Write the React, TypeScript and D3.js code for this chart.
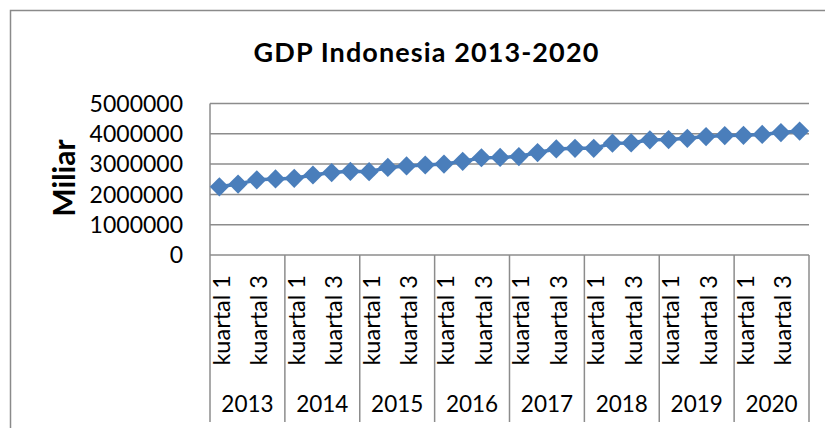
import React from "react";
import * as d3 from "d3";

const title = "GDP Indonesia 2013-2020";
const yAxisTitle = "Miliar";
const years = ["2013", "2014", "2015", "2016", "2017", "2018", "2019", "2020"];
const quarters = ["kuartal 1", "kuartal 2", "kuartal 3", "kuartal 4"];
const gdp = [
  2250000, 2340000, 2480000, 2510000,
  2530000, 2640000, 2720000, 2760000,
  2750000, 2890000, 2940000, 2970000,
  3000000, 3090000, 3210000, 3220000,
  3250000, 3380000, 3500000, 3520000,
  3520000, 3690000, 3700000, 3800000,
  3810000, 3850000, 3910000, 3940000,
  3950000, 3980000, 4040000, 4090000,
];
const yTicks = [0, 1000000, 2000000, 3000000, 4000000, 5000000];

const W = 825;
const H = 428;
const FONT = "Lato, 'Open Sans', sans-serif";
const BLUE = "#4A7EBB";
const GRID = "#8c8c8c";

export default function App() {
  const left = 210;
  const right = 809;
  const top = 103.5;
  const bottom = 255;

  const rows = years.flatMap((yr, yi) =>
    quarters.map((q, qi) => ({ year: yr, q, qi, value: gdp[yi * quarters.length + qi], idx: yi * quarters.length + qi }))
  );

  const x = d3
    .scaleBand<number>()
    .domain(rows.map((r) => r.idx))
    .range([left, right])
    .paddingInner(0)
    .paddingOuter(0);
  const xYear = d3.scaleBand<string>().domain(years).range([left, right]);
  const y = d3.scaleLinear().domain([0, 5000000]).range([bottom, top]);

  const cx = (i: number) => (x(i) as number) + x.bandwidth() / 2;
  const line = d3
    .line<typeof rows[number]>()
    .x((d) => cx(d.idx))
    .y((d) => y(d.value));
  const diamond = d3.symbol().type(d3.symbolDiamond2).size(235)();

  return (
    <svg
      width={W}
      height={H}
      style={{ position: "absolute", left: 0, top: 0, background: "#fff" }}
      fontFamily={FONT}
    >
      <rect x={10.5} y={10.5} width={840} height={440} fill="#fff" stroke="#8a8a8a" strokeWidth={1.5} />
      <text
        x={426.5}
        y={61.5}
        textAnchor="middle"
        fontSize={27}
        fontWeight="bold"
        letterSpacing={1.1}
        fill="#000"
      >
        {title}
      </text>
      <text
        transform={`translate(75,178) rotate(-90)`}
        textAnchor="middle"
        fontSize={30}
        fontWeight="bold"
        fill="#000"
      >
        {yAxisTitle}
      </text>
      {yTicks.map((t) => (
        <g key={t}>
          <line x1={left} x2={right} y1={y(t)} y2={y(t)} stroke={GRID} strokeWidth={1.5} />
          <text x={183} y={y(t)} dy="0.36em" textAnchor="end" fontSize={23} fill="#000">
            {t}
          </text>
        </g>
      ))}
      <line x1={left} x2={left} y1={top} y2={bottom} stroke={GRID} strokeWidth={1.5} />
      {years.map((yr) => (
        <line
          key={"d" + yr}
          x1={xYear(yr) as number}
          x2={xYear(yr) as number}
          y1={bottom}
          y2={422}
          stroke={GRID}
          strokeWidth={1.5}
        />
      ))}
      <line x1={right} x2={right} y1={bottom} y2={422} stroke={GRID} strokeWidth={1.5} />
      {rows
        .filter((r) => r.qi % 2 === 0)
        .map((r) => (
          <text
            key={"q" + r.idx}
            transform={`translate(${cx(r.idx) + 10.5},275) rotate(-90)`}
            textAnchor="end"
            fontSize={23.5}
            fill="#000"
          >
            {r.q}
          </text>
        ))}
      {years.map((yr) => (
        <text
          key={"y" + yr}
          x={(xYear(yr) as number) + xYear.bandwidth() / 2}
          y={412}
          textAnchor="middle"
          fontSize={22.5}
          fill="#000"
        >
          {yr}
        </text>
      ))}
      <path d={line(rows) || ""} fill="none" stroke={BLUE} strokeWidth={3.5} />
      {rows.map((r) => (
        <path key={"m" + r.idx} d={diamond || ""} transform={`translate(${cx(r.idx)},${y(r.value)})`} fill={BLUE} />
      ))}
    </svg>
  );
}
